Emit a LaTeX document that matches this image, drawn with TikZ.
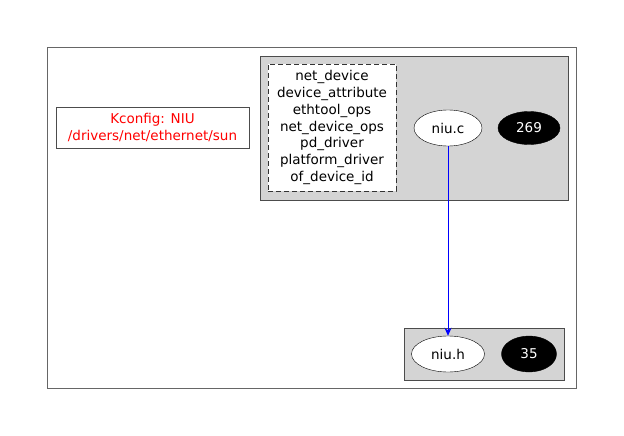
\documentclass[tikz,border=0pt]{standalone}
\usepackage{fontspec}
\setmainfont{DejaVu Sans}
\usetikzlibrary{arrows.meta,shapes.geometric}
\begin{document}
\begin{tikzpicture}[x=1pt,y=-1pt,
  frame/.style={draw=black!60, line width=0.9pt},
  cluster/.style={draw=black!70, fill=black!17, line width=0.9pt},
  fileell/.style={ellipse, draw=black, fill=white, inner sep=0pt, font=\fontsize{13.5}{16}\selectfont},
  countell/.style={ellipse, draw=black, fill=black, text=white, inner sep=0pt, font=\fontsize{13.5}{16}\selectfont},
  edge/.style={draw=blue, -{Stealth[length=8pt,width=7pt]}, line width=1pt}]
\useasboundingbox (0,0) rectangle (624,436);
\draw[frame] (47,47) rectangle (576,388);
\node[draw=black!70, line width=0.9pt, minimum width=193pt, minimum height=41pt, text=red, align=center, font=\fontsize{13.5}{17}\selectfont] (kconfig) at (152.5,127.5) {Kconfig: NIU\\/drivers/net/ethernet/sun};
\draw[cluster] (260,56) rectangle (568,200);
\node[draw=black!80, dash pattern=on 5pt off 3pt, fill=white, line width=0.8pt, minimum width=128pt, minimum height=127pt, align=center, font=\fontsize{13.5}{16.7}\selectfont] (types) at (332,127.5) {net\_device\\device\_attribute\\ethtool\_ops\\net\_device\_ops\\pd\_driver\\platform\_driver\\of\_device\_id};
\node[fileell, minimum width=68pt, minimum height=36pt] (niuc) at (448,128) {niu.c};
\node[countell, minimum width=62pt, minimum height=33pt] (c269) at (529,128) {269};
\draw[cluster] (404,328) rectangle (564,380);
\node[fileell, minimum width=73pt, minimum height=36pt] (niuh) at (448,354) {niu.h};
\node[countell, minimum width=55pt, minimum height=36pt] (c35) at (529,354) {35};
\draw[edge] (niuc) -- (niuh);
\end{tikzpicture}
\end{document}
